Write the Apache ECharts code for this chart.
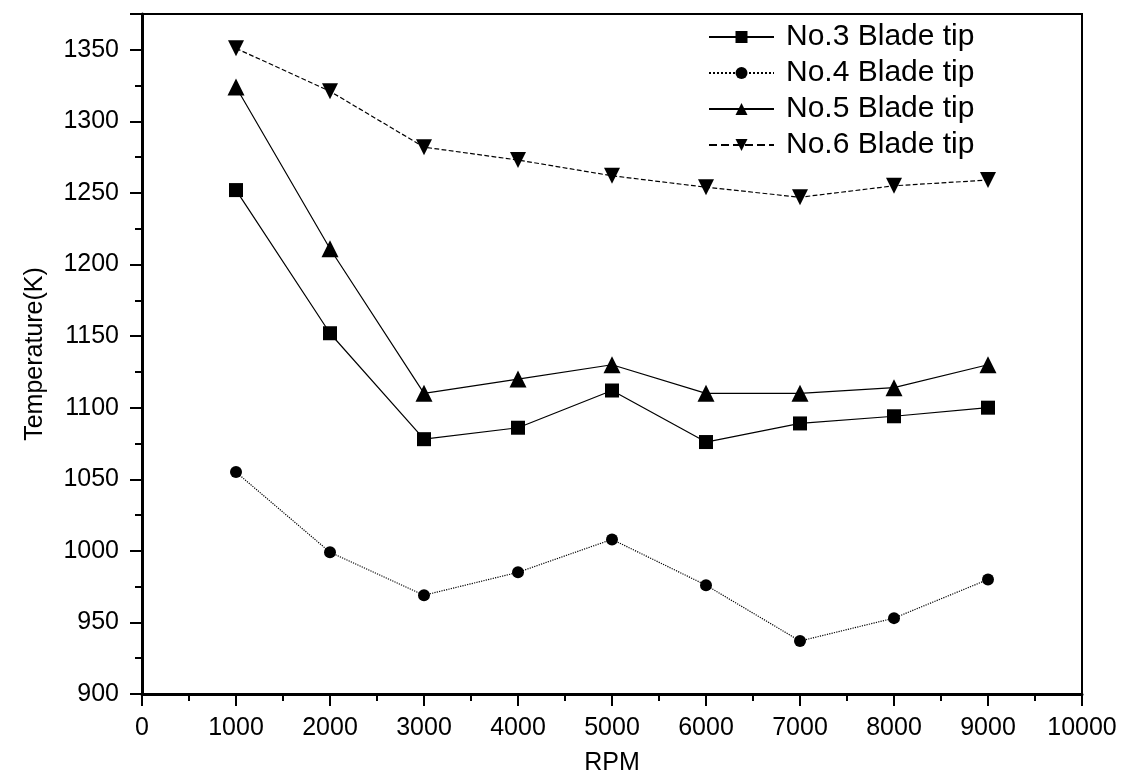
<!DOCTYPE html>
<html>
<head>
<meta charset="utf-8">
<script src="https://cdn.jsdelivr.net/npm/echarts@6/dist/echarts.min.js"></script>
<style>
    html, body { margin: 0; padding: 0; background: #fff; }
    #chart { width: 1144px; height: 781px; }
</style>
</head>
<body>
<div id="chart"></div>
<script>
const rpm = [1000, 2000, 3000, 4000, 5000, 6000, 7000, 8000, 9000];

const seriesNames = ["No.3 Blade tip", "No.4 Blade tip", "No.5 Blade tip", "No.6 Blade tip"];

const tip3 = [1252, 1152, 1078, 1086, 1112, 1076, 1089, 1094, 1100];
const tip4 = [1055, 999, 969, 985, 1008, 976, 937, 953, 980];
const tip5 = [1324, 1211, 1110, 1120, 1130, 1110, 1110, 1114, 1130];
const tip6 = [1351, 1321, 1282, 1273, 1262, 1254, 1247, 1255, 1259];

const FONT = "Liberation Sans, Arial, sans-serif";

const chart = echarts.init(document.getElementById("chart"));

function pairs(values) {
    return rpm.map((x, i) => [x, values[i]]);
}

function plain(v) {
    return String(v);
}

function makeSeries(name, values, symbol, size, lineType) {
    return {
        name: name,
        type: "line",
        data: pairs(values),
        symbol: symbol,
        symbolSize: size,
        showSymbol: true,
        animation: false,
        itemStyle: { color: "#000" },
        lineStyle: { color: "#000", width: 1.2, type: lineType }
    };
}

const option = {
    backgroundColor: "#fff",
    textStyle: { fontFamily: FONT, color: "#000" },
    grid: {
        left: 142,
        right: 62,
        top: 14,
        bottom: 85,
        show: true,
        borderColor: "#000",
        borderWidth: 2
    },
    legend: {
        orient: "vertical",
        left: 703,
        top: 17,
        itemWidth: 65,
        itemHeight: 15,
        itemGap: 6,
        textStyle: { fontFamily: FONT, fontSize: 30, color: "#000", padding: [0, 0, 0, 7] },
        data: seriesNames
    },
    xAxis: {
        type: "value",
        min: 0,
        max: 10000,
        interval: 1000,
        name: "RPM",
        nameLocation: "middle",
        nameGap: 57,
        nameTextStyle: { fontFamily: FONT, fontSize: 25, color: "#000" },
        axisLine: { show: true, lineStyle: { color: "#000", width: 3 } },
        axisTick: { show: true, inside: false, length: 12, lineStyle: { color: "#000", width: 2 } },
        minorTick: { show: true, splitNumber: 2, length: 7, lineStyle: { color: "#000", width: 2 } },
        axisLabel: { fontFamily: FONT, fontSize: 25, color: "#000", margin: 22, formatter: plain },
        splitLine: { show: false }
    },
    yAxis: {
        type: "value",
        min: 900,
        max: 1375,
        interval: 50,
        name: "Temperature(K)",
        nameLocation: "middle",
        nameGap: 94,
        nameTextStyle: { fontFamily: FONT, fontSize: 25, color: "#000" },
        axisLine: { show: true, lineStyle: { color: "#000", width: 3 } },
        axisTick: { show: true, inside: false, length: 12, lineStyle: { color: "#000", width: 2 } },
        minorTick: { show: true, splitNumber: 2, length: 7, lineStyle: { color: "#000", width: 2 } },
        axisLabel: { fontFamily: FONT, fontSize: 25, color: "#000", margin: 23, showMaxLabel: false, formatter: plain },
        splitLine: { show: false }
    },
    series: [
        makeSeries(seriesNames[0], tip3, "rect", 14, "solid"),
        makeSeries(seriesNames[1], tip4, "circle", 12, "dotted"),
        makeSeries(seriesNames[2], tip5, "triangle", 17, "solid"),
        makeSeries(seriesNames[3], tip6, "path://M0,0 L10,0 L5,10 Z", 16, "dashed")
    ]
};

chart.setOption(option);
</script>
</body>
</html>
